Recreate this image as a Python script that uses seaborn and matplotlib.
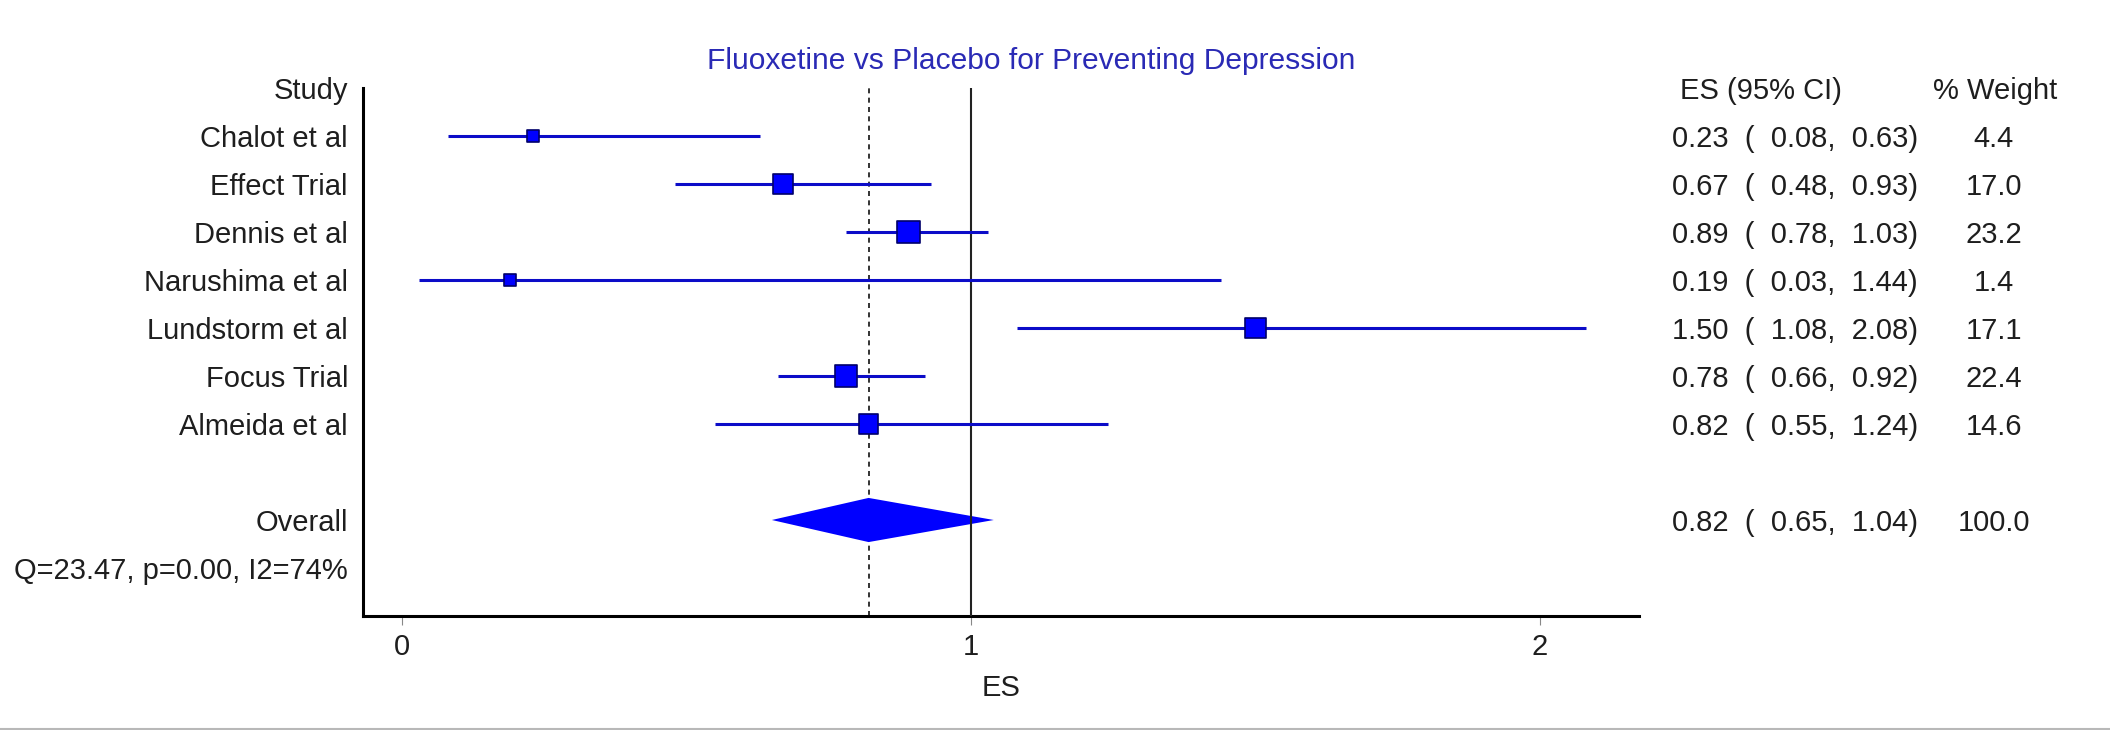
import numpy as np
import pandas as pd
import matplotlib
matplotlib.use("Agg")
import matplotlib.pyplot as plt
import seaborn as sns
from matplotlib.transforms import blended_transform_factory
from matplotlib.lines import Line2D

# ---------------- data ----------------
studies = ["Chalot et al", "Effect Trial", "Dennis et al", "Narushima et al",
           "Lundstorm et al", "Focus Trial", "Almeida et al"]
es = [0.23, 0.67, 0.89, 0.19, 1.50, 0.78, 0.82]
ci_low = [0.08, 0.48, 0.78, 0.03, 1.08, 0.66, 0.55]
ci_high = [0.63, 0.93, 1.03, 1.44, 2.08, 0.92, 1.24]
weights = [4.4, 17.0, 23.2, 1.4, 17.1, 22.4, 14.6]

overall_label = "Overall"
overall_es = 0.82
overall_low = 0.65
overall_high = 1.04
overall_weight = 100.0

heterogeneity = "Q=23.47, p=0.00, I2=74%"
title = "Fluoxetine vs Placebo for Preventing Depression"
col_headers = ["Study", "ES (95% CI)", "% Weight"]
x_ticks = [0, 1, 2]
x_tick_labels = ["0", "1", "2"]
x_label = "ES"

# ---------------- style ----------------
sns.set_theme(style="white")
plt.rcParams["font.family"] = ["Liberation Sans", "DejaVu Sans"]

W, H = 2110, 730
FS = 21
TXT = "#1e1e1e"
LINE_BLUE = "#0c0cc8"
FILL_BLUE = "#0000ff"
EDGE_BLUE = "#00006a"

fig = plt.figure(figsize=(W / 100, H / 100), dpi=100)
fig.patch.set_facecolor("white")
ax = fig.add_axes([363 / W, 114 / H, 1276 / W, 528 / H])
ax.set_facecolor("white")

n = len(studies)
rows = np.arange(1, n + 1)
overall_row = n + 2
het_row = n + 3

df = pd.DataFrame({"Study": studies, "ES": es, "row": rows, "w": weights})

# reference lines
ax.axvline(overall_es, color="#111111", lw=1.2, ls=(0, (3, 2.6)), zorder=1)
ax.axvline(1, color="#222222", lw=1.5, zorder=3)

# overall diamond
h = 0.46
ax.fill([overall_low, overall_es, overall_high, overall_es],
        [overall_row, overall_row - h, overall_row, overall_row + h],
        color=FILL_BLUE, lw=0, zorder=2)

# CI lines
ax.hlines(df["row"], ci_low, ci_high, color=LINE_BLUE, lw=2.2, zorder=4)

# weighted squares
side_px = {s: max(14.0, 8.55 * w ** (1 / 3)) for s, w in zip(studies, weights)}
sizes = {s: ((v - 1.7) * 0.72) ** 2 for s, v in side_px.items()}
sns.scatterplot(data=df, x="ES", y="row", size="Study", sizes=sizes,
                marker="s", color=FILL_BLUE, edgecolor=EDGE_BLUE, linewidth=1.2,
                legend=False, zorder=5, ax=ax)

# axes limits and styling
px_per_unit = 569.0
ax.set_xlim(-(402 - 363) / px_per_unit, (1639 - 402) / px_per_unit)
ax.set_ylim(11.0, 0.0)
ax.set_xticks(x_ticks)
ax.set_xticklabels(x_tick_labels)
ax.set_yticks([])
ax.set_ylabel("")
ax.set_xlabel(x_label, fontsize=FS, color=TXT, labelpad=9)
ax.tick_params(axis="x", bottom=True, direction="out", length=6.5, width=0.8,
               color="#888888", pad=6, labelsize=FS, labelcolor=TXT)
sns.despine(ax=ax)
for side in ["left", "bottom"]:
    ax.spines[side].set_color("black")
    ax.spines[side].set_linewidth(2.2)

# title
ax.text((1031 - 363) / 1276, 1 + 27 / 528, title, transform=ax.transAxes,
        ha="center", va="center", fontsize=21.6, color="#2a2ab5")

# text columns
tr = blended_transform_factory(fig.transFigure, ax.transData)
base = 0.22  # baseline offset (rows) so cap-centre sits on row


def put(xpx, row, s, ha):
    ax.text(xpx / W, row + base, s, transform=tr, ha=ha, va="baseline",
            fontsize=FS, color=TXT, clip_on=False)


put(348, 0, col_headers[0], "right")
put(1680, 0, col_headers[1], "left")
put(1995, 0, col_headers[2], "center")

for r, s, e, lo, hi, w in zip(rows, studies, es, ci_low, ci_high, weights):
    put(348, r, s, "right")
    put(1672, r, f"{e:.2f}  (  {lo:.2f},  {hi:.2f})", "left")
    put(1994, r, f"{w:.1f}", "center")

put(348, overall_row, overall_label, "right")
put(1672, overall_row, f"{overall_es:.2f}  (  {overall_low:.2f},  {overall_high:.2f})", "left")
put(1994, overall_row, f"{overall_weight:.1f}", "center")
put(348, het_row, heterogeneity, "right")

# window border line at the bottom
fig.add_artist(Line2D([0, 1], [1.5 / H, 1.5 / H], transform=fig.transFigure,
                      color="#b8b8b8", lw=1.5))

fig.savefig("out.png", dpi=100, facecolor="white")
